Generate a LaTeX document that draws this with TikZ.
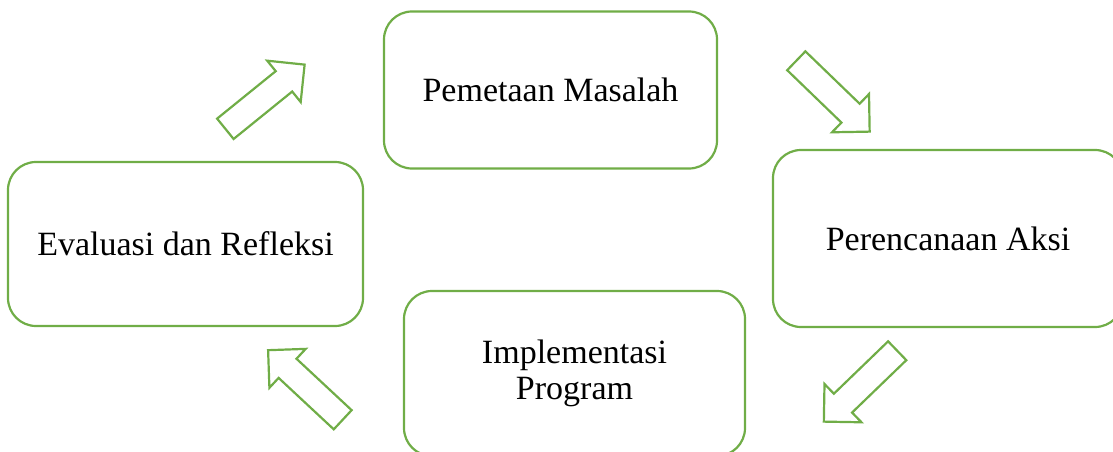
\documentclass[tikz,border=0pt]{standalone}
\usepackage{fontspec}
\setmainfont{Liberation Serif}
\usetikzlibrary{shapes.arrows}
\definecolor{leafgreen}{HTML}{70AD47}

\begin{document}
\begin{tikzpicture}
                    [x=1pt,y=-1pt,
                     stage/.style={draw=leafgreen,line width=2.2pt,rounded corners=28pt,align=center,
                                   font=\fontsize{34}{36}\selectfont,inner sep=0pt},
                     flow/.style={draw=leafgreen,line width=2.2pt,single arrow,inner xsep=0pt,inner ysep=12pt,
                                  minimum height=102pt,
                                  single arrow head extend=13.5pt,single arrow tip angle=90,anchor=tail}]

                \useasboundingbox (0,0) rectangle (1113,452);

                \node[stage,minimum width=333pt,minimum height=157pt] (pemetaan) at (550.5,90) {Pemetaan Masalah};
                \node[stage,minimum width=350pt,minimum height=177pt] (perencanaan) at (948,238.5) {Perencanaan Aksi};
                \node[stage,minimum width=341pt,minimum height=165pt] (implementasi) at (574.5,373.5) {Implementasi\\Program};
                \node[stage,minimum width=355pt,minimum height=164pt] (evaluasi) at (185.5,244) {Evaluasi dan Refleksi};

                    \node[flow,rotate=39] (naik) at (224.5,129.5) {};
                    \node[flow,rotate=-44] (turun) at (795.5,60) {};
                    \node[flow,rotate=-136] (balik) at (898,350) {};
                    \node[flow,rotate=137] (kembali) at (343.5,420.5) {};

                \end{tikzpicture}
\end{document}
